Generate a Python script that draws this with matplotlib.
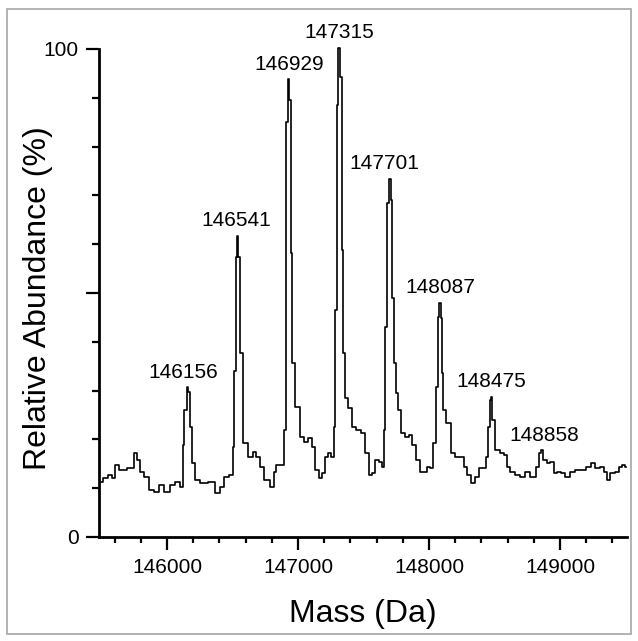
import matplotlib
matplotlib.use("Agg")
import matplotlib.pyplot as plt
from matplotlib.ticker import MultipleLocator, FixedLocator
from matplotlib.patches import Rectangle

plt.rcParams['font.family'] = ['Liberation Sans', 'DejaVu Sans']

# Deconvoluted mass spectrum trace (mass in Da, relative abundance in %)
mass = [145489, 145527, 145565, 145588, 145618, 145656, 145733, 145763, 145779, 145809,
        145847, 145885, 145924, 145947, 146000, 146046, 146076, 146115, 146122, 146145,
        146156, 146168, 146183, 146198, 146229, 146275, 146344, 146389, 146420, 146443,
        146496, 146504, 146519, 146530, 146541, 146550, 146565, 146595, 146649, 146670,
        146695, 146725, 146763, 146802, 146824, 146847, 146886, 146901, 146916, 146929,
        146940, 146952, 146962, 146992, 147031, 147054, 147092, 147115, 147145, 147168,
        147191, 147221, 147244, 147267, 147275, 147290, 147302, 147315, 147330, 147340,
        147351, 147366, 147397, 147420, 147458, 147496, 147527, 147550, 147573, 147603,
        147626, 147649, 147656, 147672, 147687, 147701, 147714, 147725, 147740, 147756,
        147771, 147802, 147832, 147855, 147878, 147916, 147947, 147970, 147992, 148023,
        148038, 148061, 148072, 148087, 148095, 148105, 148115, 148145, 148183, 148221,
        148252, 148275, 148298, 148336, 148367, 148389, 148428, 148443, 148458, 148468,
        148475, 148490, 148519, 148557, 148580, 148603, 148634, 148672, 148710, 148748,
        148786, 148809, 148825, 148847, 148858, 148886, 148909, 148939, 148962, 148985,
        149023, 149054, 149092, 149130, 149176, 149214, 149252, 149283, 149321, 149344,
        149367, 149397, 149435, 149458, 149481, 149504]
abundance = [11.3, 12.1, 12.7, 12.1, 14.8, 13.7, 14.1, 17.2, 15.8, 13.3,
             12.3, 9.6, 9.2, 10.7, 9.2, 10.7, 11.3, 10.2, 18.9, 26.0,
             30.7, 29.7, 22.5, 15.2, 11.7, 11.1, 11.3, 9.0, 10.2, 12.3,
             12.7, 18.4, 34.0, 57.4, 61.7, 57.4, 37.7, 19.3, 16.4, 17.5,
             16.4, 14.3, 11.7, 10.2, 13.3, 14.8, 14.8, 21.9, 85.0, 93.8,
             89.5, 58.2, 35.6, 26.6, 20.5, 19.5, 20.3, 18.4, 13.7, 12.1,
             13.1, 16.4, 17.2, 16.4, 22.5, 46.5, 88.5, 100.2, 94.3, 58.8,
             37.7, 28.5, 26.4, 22.5, 21.9, 21.3, 17.2, 12.7, 13.1, 15.8,
             15.4, 14.3, 21.9, 43.0, 68.4, 73.4, 69.0, 49.0, 35.6, 29.5,
             26.0, 21.3, 20.5, 20.9, 18.9, 15.8, 13.3, 13.3, 14.3, 14.1,
             19.3, 30.7, 45.0, 48.0, 44.9, 33.6, 26.0, 23.4, 17.2, 16.4,
             16.4, 14.3, 12.7, 11.1, 12.3, 14.1, 14.1, 16.4, 22.5, 28.1,
             28.7, 24.0, 17.8, 17.2, 16.8, 14.3, 13.3, 12.7, 12.3, 13.3,
             12.3, 12.3, 14.3, 17.2, 17.8, 15.8, 15.2, 15.4, 13.1, 13.3,
             13.1, 12.3, 13.3, 13.7, 13.7, 14.3, 15.2, 14.1, 14.3, 13.3,
             11.7, 13.1, 13.3, 14.3, 14.8, 14.3]

peak_labels = ["146156", "146541", "146929", "147315", "147701", "148087", "148475", "148858"]
peak_mass = [146156, 146541, 146929, 147315, 147701, 148087, 148475, 148858]
peak_height = [30.7, 61.7, 93.8, 100.2, 73.4, 48.0, 28.7, 17.8]
label_dx_pt = [-3, -1, 0, 0, -4, 0, 0, 2]

x_ticks = [146000, 147000, 148000, 149000]
y_ticks = [0, 50, 100]
y_ticklabels = ["0", "", "100"]

W, H = 638, 641
fig = plt.figure(figsize=(W / 100, H / 100), dpi=100)

# grey frame around the figure
fig.patches.append(Rectangle((7 / W, 1 - 634 / H), (631 - 7) / W, (634 - 9) / H,
                             transform=fig.transFigure, fill=False,
                             edgecolor='#a6a6a6', linewidth=1.2))

ax = fig.add_axes([99 / W, 1 - 537 / H, (627 - 99) / W, (537 - 49) / H])
ax.plot(mass, abundance, color='black', linewidth=1.2, drawstyle='steps-mid',
        clip_on=False)

ax.set_xlim(145481, 149511)
ax.set_ylim(0, 100)

for s in ['top', 'right']:
    ax.spines[s].set_visible(False)
for s in ['left', 'bottom']:
    ax.spines[s].set_linewidth(2.0)

ax.xaxis.set_major_locator(FixedLocator(x_ticks))
ax.xaxis.set_minor_locator(MultipleLocator(200))
ax.yaxis.set_major_locator(FixedLocator(y_ticks))
ax.yaxis.set_minor_locator(MultipleLocator(10))
ax.set_yticklabels(y_ticklabels)
ax.set_xticklabels([str(t) for t in x_ticks])

ax.tick_params(axis='x', which='major', direction='out', length=9, width=1.6,
               labelsize=15, pad=6)
ax.tick_params(axis='x', which='minor', direction='out', length=4, width=1.6)
ax.tick_params(axis='y', which='major', direction='out', length=9.5, width=1.6,
               labelsize=15, pad=5)
ax.tick_params(axis='y', which='minor', direction='out', length=5, width=1.6)

ax.set_xlabel("Mass (Da)", fontsize=23, va='center')
ax.xaxis.set_label_coords(0.5, (537 - 614) / 488)
ax.set_ylabel("Relative Abundance (%)", fontsize=23, va='center')
ax.yaxis.set_label_coords((38 - 99) / 528, 0.49)

for lab, mx, hy, dx in zip(peak_labels, peak_mass, peak_height, label_dx_pt):
    ax.annotate(lab, xy=(mx, hy), xytext=(dx, 4), textcoords='offset points',
                ha='center', va='bottom', fontsize=15, annotation_clip=False)

fig.savefig("out.png", dpi=100)
